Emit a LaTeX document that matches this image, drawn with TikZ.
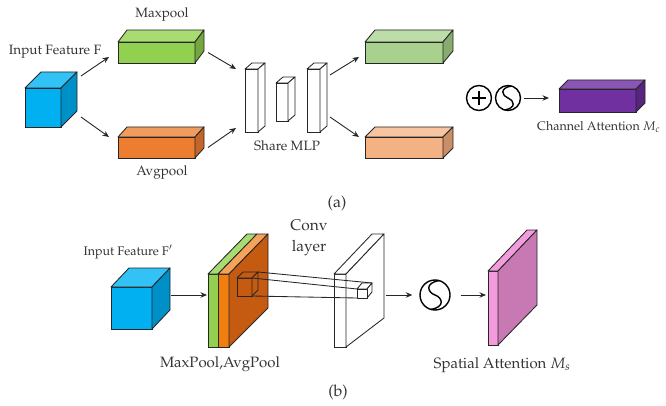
\documentclass[tikz,border=0pt]{standalone}
\usepackage[T1]{fontenc}
\usepackage{mathpazo}
\usetikzlibrary{arrows.meta,calc}
\definecolor{cyF}{HTML}{00B0F0}\definecolor{cyT}{HTML}{33C2F5}\definecolor{cyS}{HTML}{0090C8}
\definecolor{grF}{HTML}{92D050}\definecolor{grT}{HTML}{A8DC72}\definecolor{grS}{HTML}{74A83E}
\definecolor{orF}{HTML}{ED7D31}\definecolor{orT}{HTML}{F29B5E}\definecolor{orS}{HTML}{C4662A}
\definecolor{lgF}{HTML}{A9D18E}\definecolor{lgT}{HTML}{BDDDA8}\definecolor{lgS}{HTML}{88AB70}
\definecolor{loF}{HTML}{F4B183}\definecolor{loT}{HTML}{F8C5A2}\definecolor{loS}{HTML}{C98F66}
\definecolor{puF}{HTML}{7030A0}\definecolor{puT}{HTML}{8A55B5}\definecolor{puS}{HTML}{572580}
\definecolor{slabO}{HTML}{F07F0F}\definecolor{slabOT}{HTML}{F5A35A}\definecolor{slabD}{HTML}{C55A11}
\definecolor{pkF}{HTML}{F39BDC}\definecolor{pkS}{HTML}{C878B2}
\definecolor{txt}{HTML}{333333}
\newcommand{\cuboid}[9]{%
  \node[box, fill=#7, minimum width=#3pt, minimum height=#4pt, anchor=north west] (#1) at #2 {};
  \draw[face, fill=#8] (#1.north west) -- ++(#5,#6) -- ++(#3,0) -- (#1.north east) -- cycle;
  \draw[face, fill=#9] (#1.north east) -- ++(#5,#6) -- ++(0,#4) -- (#1.south east) -- cycle;
}
\newcommand{\sigmsym}[4]{% name, x, y, radius
  \node[circle, draw=black, line width=1.4pt, minimum size=#4*2pt, inner sep=0pt] (#1) at (#2,#3) {};
  \begin{scope}[shift={(#1.center)}, scale=#4/12.5]
    \draw[line width=1.4pt] (3.5,-12) .. controls (-9,-10) and (-6,-2) .. (0,0) .. controls (6,2) and (9,10) .. (-3.5,12);
  \end{scope}
}
\begin{document}
\begin{tikzpicture}[x=1pt,y=-1pt,
  box/.style={draw=black!85, line width=0.85pt, inner sep=0pt, outer sep=0pt, rectangle},
  face/.style={draw=black!85, line width=0.85pt, line join=round},
  arr/.style={-{Stealth[length=6.5pt,width=5.5pt]}, line width=0.9pt, draw=black!85},
  lbl/.style={text=txt, inner sep=0pt},
  fa/.style={font=\fontsize{13.5}{15}\selectfont}]
\useasboundingbox (0,0) rectangle (666,406);
% ---------- (a) ----------
\cuboid{cubeA}{(25,88)}{36}{39}{16}{-16}{cyF}{cyT}{cyS}
\cuboid{green}{(118,42)}{77}{21}{9}{-12}{grF}{grT}{grS}
\cuboid{orange}{(118,137)}{77}{21}{9}{-10}{orF}{orT}{orS}
\cuboid{bar1}{(245,69)}{13}{63}{7}{-6}{white}{white}{white}
\cuboid{bar2}{(276,83)}{12}{38}{7}{-6}{white}{white}{white}
\cuboid{bar3}{(307,69)}{13}{63}{7}{-6}{white}{white}{white}
\cuboid{lgreen}{(365,42)}{78}{21}{10}{-12}{lgF}{lgT}{lgS}
\cuboid{lorange}{(365,137)}{78}{21}{10}{-10}{loF}{loT}{loS}
\cuboid{purple}{(559,89)}{77}{23}{9}{-9}{puF}{puT}{puS}
\node[circle, draw=black, line width=1.4pt, minimum size=25pt, inner sep=0pt] (plus) at (479,98) {};
\draw[line width=1.4pt] ($(plus.center)+(-7,0)$) -- ($(plus.center)+(7,0)$);
\draw[line width=1.4pt] ($(plus.center)+(0,-7)$) -- ($(plus.center)+(0,7)$);
\sigmsym{sigA}{508}{98}{12.5}
\draw[arr] ($(cubeA.north east)+(20,-12)$) -- ($(green.west)+(-9,4.5)$);
\draw[arr] ($(cubeA.south east)+(20,-10)$) -- ($(orange.west)+(-9,-10.5)$);
\draw[arr] ($(green.east)+(13,0)$) -- ($(bar1.north west)+(-9,0)$);
\draw[arr] ($(orange.east)+(13,0)$) -- ($(bar1.south west)+(-9,-4)$);
\draw[arr] ($(bar3.north east)+(10,6)$) -- ($(lgreen.west)+(-6,4.5)$);
\draw[arr] ($(bar3.south east)+(10,-15)$) -- ($(lorange.west)+(-6,-10.5)$);
\draw[arr] ($(sigA.east)+(3,0)$) -- ($(purple.west)+(-10,-2.5)$);
\node[lbl, fa] (tinA) at (55,52) {Input Feature F};
\node[lbl, fa] (tmax) at (162,15) {Maxpool};
\node[lbl, fa] (tavg) at (162,173) {Avgpool};
\node[lbl, fa] (tmlp) at (287,146) {Share MLP};
\node[lbl, anchor=west, font=\fontsize{12.5}{14}\selectfont] (tca) at (537,127) {Channel Attention $M_c$};
\node[lbl, font=\fontsize{16}{18}\selectfont] (ta) at (337,203) {(a)};
% ---------- (b) ----------
\cuboid{cubeB}{(111,287)}{41}{42}{18}{-19}{cyF}{cyT}{cyS}
\node[box, fill=grF, minimum width=10pt, minimum height=73pt, anchor=north west] (gslab) at (208,274) {};
\node[box, fill=slabO, minimum width=11pt, minimum height=73pt, anchor=north west] (oslab) at (218,274) {};
\draw[face, fill=grT] (gslab.north west) -- ++(39,-40) -- ++(10,0) -- (gslab.north east) -- cycle;
\draw[face, fill=slabOT] (oslab.north west) -- ++(39,-40) -- ++(11,0) -- (oslab.north east) -- cycle;
\draw[face, fill=slabD] (oslab.north east) -- ++(39,-40) -- ++(0,74) -- (oslab.south east) -- cycle;
\node[box, fill=white, minimum width=12pt, minimum height=73pt, anchor=north west] (conv) at (334,274) {};
\draw[face, fill=white] (conv.north west) -- ++(38,-40) -- ++(12,0) -- (conv.north east) -- cycle;
\draw[face, fill=white] (conv.north east) -- ++(38,-40) -- ++(0,84) -- (conv.south east) -- cycle;
\cuboid{scubeA}{(237,278)}{15}{18}{6}{-6}{slabD}{slabD}{slabD}
\coordinate (scA) at ($(scubeA.north east)+(6,-6)$);
\node[box, draw=none, minimum width=10pt, minimum height=9pt, anchor=north west] (scubeB) at (357,289) {};
\draw[face] (scA) -- ($(scubeB.north east)+(5,-6)$);
\draw[face] (scubeA.north east) -- (scubeB.north west);
\draw[face] (scubeA.south east) -- (scubeB.south west);
\draw[face, fill=white] (scubeB.north west) -- ++(5,-6) -- ++(10,0) -- (scubeB.north east) -- cycle;
\draw[face, fill=white] (scubeB.north east) -- ++(5,-6) -- ++(0,9) -- (scubeB.south east) -- cycle;
\draw[face, fill=white] (scubeB.north west) rectangle (scubeB.south east);
\sigmsym{sigB}{435}{295}{15}
\node[box, fill=pkF, minimum width=10pt, minimum height=74pt, anchor=north west] (pink) at (488,271) {};
\draw[face, fill=pkF] (pink.north west) -- ++(39,-41) -- ++(10,0) -- (pink.north east) -- cycle;
\draw[face, fill=pkS] (pink.north east) -- ++(39,-41) -- ++(0,75) -- (pink.south east) -- cycle;
\draw[arr] ($(cubeB.east)+(19,-13)$) -- ($(gslab.west)+(-1,-15.5)$);
\draw[arr] ($(conv.east)+(40,-15.5)$) -- ($(sigB.west)+(-7,0)$);
\draw[arr] ($(sigB.east)+(10,0)$) -- ($(pink.west)+(-2,-13)$);
\node[lbl, font=\fontsize{12.5}{14}\selectfont] (tinB) at (128,252) {Input Feature F$'$};
\node[lbl, font=\fontsize{15}{17}\selectfont] (tpool) at (220,364) {MaxPool,AvgPool};
\node[lbl, align=center, font=\fontsize{15.5}{21}\selectfont] (tconv) at (309,238) {Conv\\layer};
\node[lbl, font=\fontsize{15}{17}\selectfont] (tsa) at (502,365) {Spatial Attention $M_s$};
\node[lbl, font=\fontsize{16}{18}\selectfont] (tb) at (338,392) {(b)};
\end{tikzpicture}
\end{document}
